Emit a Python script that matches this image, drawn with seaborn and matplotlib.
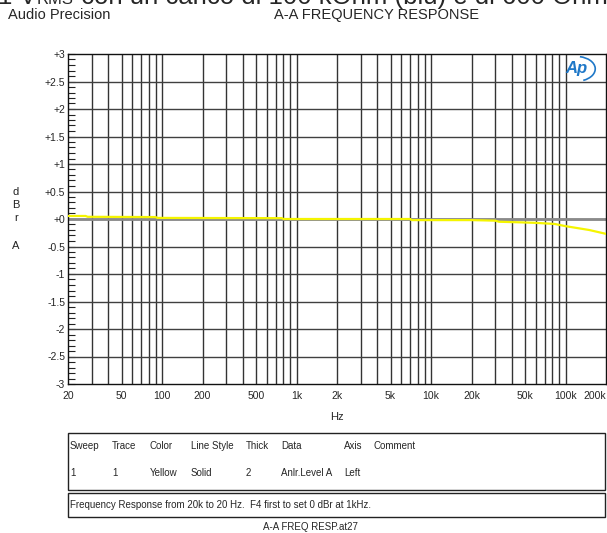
import numpy as np
import pandas as pd
import matplotlib
matplotlib.use("Agg")
import matplotlib.pyplot as plt
import matplotlib.patches as mpatches
import seaborn as sns

# frequency response (Hz, dBr)
freq = [20, 27, 28, 90, 92, 200, 780, 800, 1000, 2000, 5000, 7000, 7200,
        20000, 30000, 32000, 45000, 60000, 83000, 100000, 150000, 200000]
level = [0.055, 0.055, 0.04, 0.035, 0.02, 0.018, 0.015, 0.0, 0.0, 0.0, 0.0,
         0.0, -0.02, -0.02, -0.03, -0.05, -0.06, -0.07, -0.09, -0.13, -0.2, -0.27]

xticks = [20, 50, 100, 200, 500, 1000, 2000, 5000, 10000, 20000, 50000, 100000, 200000]
xlabels = ["20", "50", "100", "200", "500", "1k", "2k", "5k", "10k", "20k", "50k", "100k", "200k"]
yticks = [3, 2.5, 2, 1.5, 1, 0.5, 0, -0.5, -1, -1.5, -2, -2.5, -3]
ylabels = ["+3", "+2.5", "+2", "+1.5", "+1", "+0.5", "+0", "-0.5", "-1", "-1.5", "-2", "-2.5", "-3"]

headers = ["Sweep", "Trace", "Color", "Line Style", "Thick", "Data", "Axis", "Comment"]
row = ["1", "1", "Yellow", "Solid", "2", "Anlr.Level A", "Left", ""]
col_x = [70, 112, 150, 191, 246, 281, 344, 373]

sns.set_style("white")
plt.rcParams['font.family'] = ['Liberation Sans', 'DejaVu Sans']

W, H = 607, 533
fig = plt.figure(figsize=(W / 100, H / 100), dpi=100)
ax = fig.add_axes([68 / W, (H - 384) / H, (606 - 68) / W, 330 / H])

# grid lines (every 1..9 per decade, every 0.5 dB)
grid_f = [m * 10 ** e for e in range(1, 6) for m in range(1, 10)]
grid_f = [f for f in grid_f if 20 < f < 200000]
for f in grid_f:
    ax.axvline(f, color="#333333", lw=1, zorder=1)
for y in yticks[1:-1]:
    ax.axhline(y, color="#404040", lw=1, zorder=1)
ax.axhline(0, color="#8a8a8a", lw=2, zorder=2)

df = pd.DataFrame({"Hz": freq, "dBr": level})
sns.lineplot(data=df, x="Hz", y="dBr", color="#f5f500", lw=1.6, ax=ax, zorder=3)

ax.set_xscale("log")
ax.set_xlim(20, 200000)
ax.set_ylim(-3, 3)
ax.set_xticks(xticks)
ax.set_xticklabels(xlabels)
ax.get_xticklabels()[-1].set_horizontalalignment("right")
ax.xaxis.set_minor_locator(matplotlib.ticker.NullLocator())
ax.set_yticks(yticks)
ax.set_yticklabels(ylabels)
ax.set_yticks(np.arange(-3, 3.01, 0.1), minor=True)
ax.tick_params(axis="y", which="minor", direction="in", length=5, width=0.8, color="#222222", left=True)
ax.tick_params(axis="y", which="major", direction="in", length=5, width=0.8, color="#222222",
               left=True, labelsize=7.5, pad=2)
ax.tick_params(axis="x", which="major", length=0, labelsize=7.5, pad=5)
ax.set_xlabel("Hz", fontsize=8, labelpad=8)
ax.set_ylabel("")
for s in ax.spines.values():
    s.set_color("#111111")
    s.set_linewidth(1)

# AP logo
ax.text(0.945, 0.955, "Ap", transform=ax.transAxes, fontsize=12, style="italic",
        fontweight="bold", color="#1f78c8", ha="center", va="center", zorder=5)
ax.add_patch(mpatches.Arc((0.945, 0.955), 0.07, 0.075, theta1=-70, theta2=80,
                          transform=ax.transAxes, color="#1f78c8", lw=1.2, zorder=5))

# y axis label letters
for ch, yy in zip(["d", "B", "r", "A"], [192, 205, 218, 246]):
    fig.text(16 / W, 1 - yy / H, ch, fontsize=8, ha="center", va="center", color="#222222")

# cropped title line at the very top (only its lower part shows)
renderer = fig.canvas.get_renderer()
x_px = -2
base = 1 - 4 / H
for piece, size in [("1 V", 18.5), ("RMS", 12), (" con un carico di 100 kOhm (blu) e di 600 Ohm", 18.5)]:
    t = fig.text(x_px / W, base, piece, fontsize=size, ha="left", va="baseline")
    x_px += t.get_window_extent(renderer).width

fig.text(8 / W, 1 - 15 / H, "Audio Precision", fontsize=10.5, ha="left", va="center")
fig.text(377 / W, 1 - 15 / H, "A-A FREQUENCY RESPONSE", fontsize=10.5, ha="center", va="center")

# legend table boxes
for (y0, y1) in [(433, 490), (493, 517)]:
    fig.patches.append(mpatches.Rectangle((68 / W, 1 - y1 / H), (605 - 68) / W, (y1 - y0) / H,
                                          transform=fig.transFigure, fill=False,
                                          edgecolor="#222222", lw=1))
for x, h, r in zip(col_x, headers, row):
    fig.text(x / W, 1 - 446 / H, h, fontsize=7, ha="left", va="center")
    fig.text(x / W, 1 - 473 / H, r, fontsize=7, ha="left", va="center")
fig.text(70 / W, 1 - 505 / H, "Frequency Response from 20k to 20 Hz.  F4 first to set 0 dBr at 1kHz.",
         fontsize=7, ha="left", va="center")
fig.text(310 / W, 1 - 527 / H, "A-A FREQ RESP.at27", fontsize=7, ha="center", va="center")

fig.savefig("out.png", dpi=100)
